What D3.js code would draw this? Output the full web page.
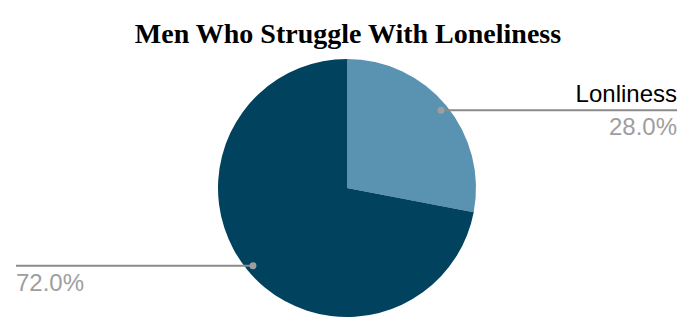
<html>
	<head>
		<style>
			body { margin: 0; background: #fff; }
			svg { display: block; }
			.title { font-family: "Liberation Serif", "Times New Roman", serif; font-weight: bold; font-size: 28px; fill: #000; }
			.name { font-family: "Liberation Sans", Arial, sans-serif; font-size: 24px; fill: #000; }
			.pct { font-family: "Liberation Sans", Arial, sans-serif; font-size: 24px; fill: #9e9e9e; }
		</style>
		<script src="https://cdn.jsdelivr.net/npm/d3@7"></script>
	</head>
	<body>
		<div id="chart"></div>
		<script>
			var width = 694;
			var height = 334;

			// data
			var categories = ["Lonliness", ""];
			var values = [28.0, 72.0];
			var colors = ["#5a92b1", "#01425f"];

			var cx = 347, cy = 188, radius = 129;
			var leftX = 16, rightX = 677;

			var svg = d3.select("#chart").append("svg")
				.attr("width", width)
				.attr("height", height);

			svg.append("text")
				.attr("class", "title")
				.attr("x", 348)
				.attr("y", 43)
				.attr("text-anchor", "middle")
				.text("Men Who Struggle With Loneliness");

			var pie = d3.pie().sort(null)(values);
			var arc = d3.arc().innerRadius(0).outerRadius(radius);
			var anchorArc = d3.arc().innerRadius(122).outerRadius(122);

			var g = svg.append("g").attr("transform", "translate(" + cx + "," + cy + ")");

			g.selectAll("path.slice")
				.data(pie)
				.enter().append("path")
					.attr("class", "slice")
					.attr("d", arc)
					.attr("fill", function(d, i) { return colors[i]; });

			var labels = svg.append("g");
			pie.forEach(function(d, i) {
				var c = anchorArc.centroid(d);
				var px = cx + c[0], py = cy + c[1];
				var right = px > cx;
				var endX = right ? rightX : leftX;
				labels.append("line")
					.attr("x1", px).attr("y1", py)
					.attr("x2", endX).attr("y2", py)
					.attr("stroke", "#8a8a8a")
					.attr("stroke-width", 2);
				labels.append("circle")
					.attr("cx", px).attr("cy", py)
					.attr("r", 3.5)
					.attr("fill", "#9e9e9e");
				if (categories[i]) {
					labels.append("text")
						.attr("class", "name")
						.attr("x", endX)
						.attr("y", py - 8)
						.attr("text-anchor", right ? "end" : "start")
						.text(categories[i]);
				}
				labels.append("text")
					.attr("class", "pct")
					.attr("x", endX)
					.attr("y", py + 25)
					.attr("text-anchor", right ? "end" : "start")
					.text(values[i].toFixed(1) + "%");
			});
		</script>
	</body>
</html>
